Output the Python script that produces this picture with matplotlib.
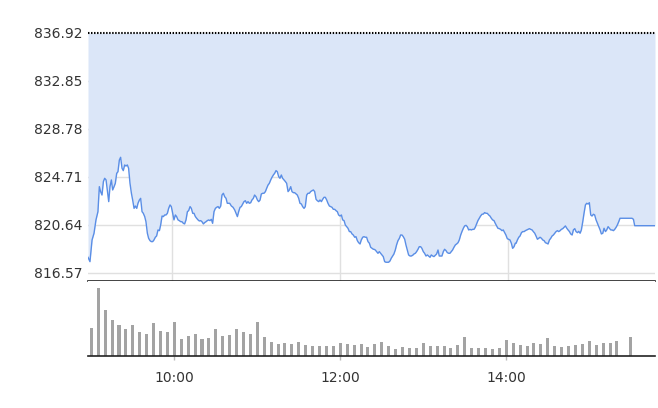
import matplotlib
matplotlib.use("Agg")
import matplotlib.pyplot as plt
import numpy as np

# intraday price, minutes after 09:00
minutes = [
    0.0, 1.4, 2.9, 4.3, 5.7, 7.1, 8.1, 9.0, 10.0, 11.0, 11.9, 12.9, 13.8, 14.8, 15.7, 16.7, 17.6, 18.6, 19.5, 20.5,
    21.4, 22.4, 23.3, 24.3, 25.2, 26.2, 27.1, 28.1, 29.0, 30.0, 31.0, 31.9, 32.9, 33.8, 34.8, 35.7, 36.7, 37.6, 38.6, 39.5,
    40.5, 41.4, 42.4, 43.3, 44.3, 45.2, 46.2, 47.1, 48.1, 49.0, 50.0, 51.0, 51.9, 52.9, 53.8, 54.8, 55.7, 56.7, 57.6, 58.6,
    59.5, 60.5, 61.4, 62.4, 63.3, 64.3, 65.2, 66.2, 67.1, 68.1, 69.0, 70.0, 71.0, 71.9, 72.9, 73.8, 74.8, 75.7, 76.7, 77.6,
    78.6, 79.5, 80.5, 81.4, 82.4, 83.3, 84.3, 85.2, 86.2, 87.1, 88.1, 89.0, 90.0, 91.0, 91.9, 92.9, 93.8, 94.8, 95.7, 96.7,
    97.6, 98.6, 99.5,
    101.2, 102.4, 103.6, 104.8, 106.0, 106.7, 107.6, 108.6, 109.5, 110.5, 111.4, 112.4, 113.3, 114.3, 115.2, 116.2, 117.1,
    118.1, 119.0, 120.0, 121.0, 121.9, 122.9, 123.8, 124.8, 125.7, 126.7, 127.6, 128.6, 129.5, 130.5, 131.4, 132.4, 133.3,
    134.3, 135.2, 136.2, 137.1, 138.1, 139.0, 140.0, 141.0, 141.9, 142.9, 143.8, 144.8, 145.7, 146.7, 147.6, 148.6, 149.5,
    150.5, 151.4, 152.4, 153.3, 154.3, 155.2, 156.2, 157.1, 158.1, 159.0, 160.0, 161.0, 161.9, 162.9, 163.8, 164.8, 165.7,
    166.7, 167.6, 168.6, 169.5, 170.5, 171.4, 172.4, 173.3, 174.3, 175.2, 176.2, 177.1, 178.1, 179.0, 180.0, 181.0, 181.9,
    182.9, 183.8, 184.8, 185.7, 186.7, 187.6, 188.6, 189.5, 190.5, 191.4, 192.4, 193.3, 194.3, 195.2, 196.2, 197.1, 198.1,
    199.0, 200.0, 201.0, 201.9, 202.9, 203.8,
    204.3, 205.2, 206.2, 207.1, 208.1, 209.0, 210.0, 210.9, 211.9, 212.8, 213.8, 214.7, 215.7, 216.6, 217.6, 218.5, 219.5,
    220.4, 221.4, 222.4, 223.3, 224.3, 225.2, 226.2, 227.1, 228.1, 229.0, 230.0, 230.9, 231.9, 232.8, 233.8, 234.7, 235.7,
    236.6, 237.6, 238.5, 239.5, 240.4, 241.4, 242.4, 243.3, 244.3, 245.2, 246.2, 247.1, 248.1, 249.0, 250.0, 250.9, 251.9,
    252.8, 253.8, 254.7, 255.7, 256.6, 257.6, 258.5, 259.5, 260.4, 261.4, 262.4, 263.3, 264.3, 265.2, 266.2, 267.1, 268.1,
    269.0, 270.0, 270.9, 271.9, 272.8, 273.8, 274.7, 275.7, 276.6, 277.6, 278.5, 279.5, 280.4, 281.4, 282.4, 283.3, 284.3,
    285.2, 286.2, 287.1, 288.1, 289.0, 290.0, 290.9, 291.9, 292.8, 293.8, 294.7, 295.7, 296.6, 297.6, 298.5, 299.5, 300.4,
    301.4, 302.4, 303.3, 304.3, 305.2,
    305.8, 306.7, 307.7, 308.6, 309.6, 310.5, 311.5, 312.4, 313.4, 314.3, 315.3, 316.2, 317.2, 318.1, 319.1, 320.0, 321.0,
    321.9, 322.9, 323.9, 324.8, 325.8, 326.7, 327.7, 328.6, 329.6, 330.5, 331.5, 332.4, 333.4, 334.3, 335.3, 336.2, 337.2,
    338.1, 339.1, 340.0, 341.0, 342.0, 342.9, 343.9, 344.8, 345.8, 346.7, 347.7, 348.6, 349.6, 350.5, 351.5, 352.4, 353.4,
    354.3, 355.3, 356.2, 357.2, 358.1, 359.1, 360.0, 361.0, 361.9, 362.9, 363.9, 364.8, 365.8, 366.7, 367.7, 368.6, 369.6,
    370.5, 371.5, 372.4, 373.4, 374.3, 375.3, 376.2, 377.2, 378.1, 379.1, 380.0, 388.6, 389.6, 390.5, 405.0,
]
price = [
    817.90, 817.53, 819.37, 819.94, 821.07, 821.77, 823.89, 823.47, 823.18, 824.32,
    824.60, 824.46, 823.61, 822.62, 823.89, 824.46, 823.61, 823.89, 824.17, 825.02,
    825.16, 826.15, 826.38, 825.45, 825.25, 825.73, 825.64, 825.73, 825.45, 824.17,
    823.33, 822.76, 822.05, 822.25, 822.05, 822.48, 822.76, 822.90, 821.77, 821.63,
    821.35, 820.92, 819.94, 819.51, 819.31, 819.23, 819.23, 819.37, 819.60, 819.71,
    820.22, 820.16, 820.64, 821.40, 821.35, 821.49, 821.49, 821.63, 822.05, 822.34,
    822.20, 821.63, 821.07, 821.49, 821.35, 821.07, 821.01, 820.92, 820.92, 820.78,
    820.73, 821.07, 821.77, 821.86, 822.20, 822.05, 821.63, 821.63, 821.35, 821.21,
    821.07, 820.98, 821.01, 820.92, 820.73, 820.84, 820.92, 821.01, 821.07, 821.01,
    821.12, 820.78, 821.77, 822.05, 822.14, 822.20, 822.05, 822.25, 823.18, 823.33,
    823.04, 822.90, 822.48,
    822.48, 822.25, 822.14, 821.91, 821.57, 821.35, 821.77, 822.14, 822.20, 822.42,
    822.62, 822.70, 822.48, 822.62, 822.48, 822.53, 822.76, 822.90, 823.18, 823.04,
    822.76, 822.62, 822.76, 823.27, 823.33, 823.33, 823.47, 823.75, 824.03, 824.17,
    824.46, 824.68, 824.88, 825.02, 825.25, 825.16, 824.74, 824.60, 824.88, 824.60,
    824.46, 824.32, 824.17, 823.47, 823.61, 823.89, 823.47, 823.38, 823.38, 823.27,
    823.18, 822.90, 822.48, 822.42, 822.20, 822.05, 822.20, 823.18, 823.33, 823.33,
    823.47, 823.55, 823.61, 823.47, 822.82, 822.70, 822.62, 822.76, 822.62, 822.82,
    822.99, 822.99, 822.76, 822.48, 822.25, 822.20, 822.14, 821.97, 821.97, 821.86,
    821.77, 821.49, 821.40, 821.49, 821.07, 821.01, 820.64, 820.50, 820.36, 820.08,
    820.08, 819.88, 819.79, 819.60, 819.65, 819.31, 819.14, 819.03, 819.37, 819.60,
    819.65, 819.60, 819.60, 819.23, 819.09, 818.75, 818.66, 818.58,
    818.58, 818.52, 818.38, 818.24, 818.38, 818.24, 818.10, 817.96, 817.53, 817.48,
    817.48, 817.48, 817.59, 817.82, 818.01, 818.18, 818.52, 818.95, 819.31, 819.51,
    819.79, 819.79, 819.65, 819.43, 818.95, 818.52, 818.10, 818.01, 818.01, 818.07,
    818.18, 818.24, 818.38, 818.58, 818.80, 818.80, 818.66, 818.38, 818.24, 818.01,
    818.10, 818.01, 817.90, 818.10, 818.01, 817.96, 818.07, 818.18, 818.52, 818.01,
    818.01, 818.01, 818.38, 818.58, 818.47, 818.30, 818.24, 818.24, 818.38, 818.52,
    818.75, 818.95, 819.03, 819.14, 819.37, 819.79, 820.08, 820.36, 820.56, 820.61,
    820.50, 820.22, 820.27, 820.22, 820.27, 820.27, 820.44, 820.73, 821.01, 821.21,
    821.40, 821.55, 821.57, 821.69, 821.63, 821.63, 821.49, 821.40, 821.21, 821.07,
    821.01, 820.78, 820.56, 820.36, 820.33, 820.27, 820.16, 820.22, 819.99, 819.79,
    819.48, 819.43, 819.37, 819.09, 818.66, 818.80, 819.09,
    819.09, 819.37, 819.60, 819.71, 819.99, 820.08, 820.08, 820.16, 820.22, 820.27,
    820.33, 820.27, 820.22, 820.08, 819.94, 819.71, 819.43, 819.51, 819.60, 819.51,
    819.37, 819.31, 819.14, 819.09, 819.03, 819.37, 819.51, 819.71, 819.79, 819.94,
    820.08, 820.16, 820.08, 820.16, 820.27, 820.33, 820.44, 820.56, 820.36, 820.22,
    820.08, 819.88, 819.79, 820.22, 820.33, 820.08, 819.99, 820.10, 819.94, 820.22,
    820.92, 821.63, 822.34, 822.48, 822.42, 822.53, 821.49, 821.40, 821.55, 821.49,
    821.07, 820.78, 820.50, 820.22, 819.88, 819.94, 820.36, 820.08, 820.22, 820.50,
    820.36, 820.22, 820.22, 820.16, 820.27, 820.44, 820.64, 820.92, 821.21,
    821.21, 821.12, 820.58, 820.58,
]

prev_close = 836.92
y_ticks = [816.57, 820.64, 824.71, 828.78, 832.85, 836.92]

# 5-minute volume bars starting 09:00 (15:25 has none)
volume = [
    84, 204, 138, 108, 93, 81, 93, 72, 66, 99,
    75, 72, 102, 51, 60, 66, 51, 54, 81, 60,
    63, 81, 72, 66, 102, 57, 42, 36, 39, 36,
    42, 33, 30, 30, 30, 30, 39, 36, 33, 36,
    27, 36, 42, 30, 21, 27, 24, 24, 39, 30,
    30, 30, 24, 33, 57, 24, 24, 24, 21, 24,
    48, 39, 33, 30, 39, 36, 54, 30, 27, 30,
    33, 36, 45, 33, 39, 39, 45, 0, 57,
]
vol_minutes = np.arange(len(volume)) * 5

time_ticks = [60, 180, 300]
time_labels = ["10:00", "12:00", "14:00"]

W, H = 658, 408
fig = plt.figure(figsize=(W / 100, H / 100), dpi=100)

# price panel
ax = fig.add_axes([88 / W, 1 - 281 / H, 567 / W, 248 / H])
ax.set_xlim(0, 405)
ax.set_ylim(815.89, prev_close)
for v in y_ticks[:-1]:
    ax.axhline(v, color="#e0e0e0", lw=1, zorder=1)
for t in time_ticks:
    ax.axvline(t, color="#e0e0e0", lw=1, zorder=1)
ax.fill_between(minutes, price, prev_close, color="#dbe6f8", lw=0, zorder=2)
ax.plot(minutes, price, color="#5a8ee6", lw=1, zorder=3)
ax.axhline(prev_close, color="black", lw=1.5, ls=(0, (0.7, 0.75)), zorder=4, clip_on=False)

ax.set_yticks(y_ticks)
ax.set_yticklabels([f"{v:.2f}" for v in y_ticks])
ax.set_xticks([])
ax.tick_params(axis="y", length=0, pad=4.3, labelsize=10, labelcolor="#333333")
for s in ["top", "left", "right"]:
    ax.spines[s].set_visible(False)
ax.spines["bottom"].set_color("#222222")
ax.spines["bottom"].set_linewidth(1.2)

# volume panel
vax = fig.add_axes([88 / W, 1 - 356 / H, 567 / W, 75 / H])
vax.bar(vol_minutes, volume, width=2.2, color="#a3a3a3", zorder=2)
vax.set_xlim(-2.4, 407.5)
vax.set_ylim(0, 225)
vax.set_yticks([])
vax.set_xticks(time_ticks)
vax.set_xticklabels(time_labels)
vax.tick_params(axis="x", length=3, width=1, color="#bbbbbb", pad=8,
                labelsize=10, labelcolor="#333333")
for s in ["top", "left", "right"]:
    vax.spines[s].set_visible(False)
vax.spines["bottom"].set_color("#222222")
vax.spines["bottom"].set_linewidth(1.2)

fig.savefig("out.png", dpi=100)
